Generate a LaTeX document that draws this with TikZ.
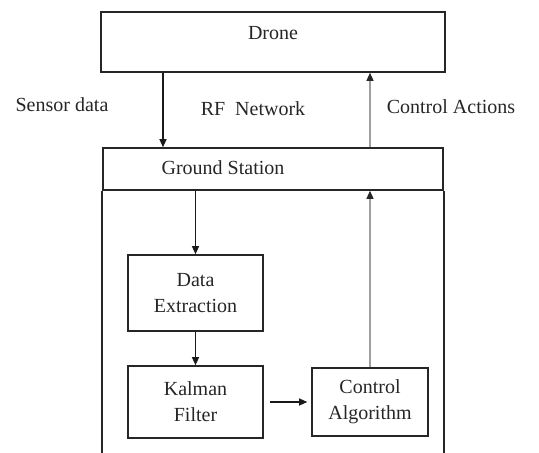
\documentclass[tikz,border=0pt]{standalone}
\usepackage{fontspec}
\setmainfont{Liberation Serif}
\usetikzlibrary{arrows.meta}

\begin{document}
\begin{tikzpicture}[x=1pt,y=1pt,
    box/.style={draw=black!85, line width=1.6pt, inner sep=0pt},
    txt/.style={font=\fontsize{20}{26}\selectfont, align=center, inner sep=0pt, text=black!85},
    arr/.style={-{Triangle[length=8pt,width=7pt]}, line width=1.2pt, draw=black!90},
    garr/.style={line width=1.3pt, draw=gray!75, -{Triangle[length=8pt,width=7pt,color=black!85]}}]
    \useasboundingbox (0,0) rectangle (539,453);
    \coordinate (bottom) at (273,0);
    \node[box, minimum width=344pt, minimum height=60pt] (drone) at (273,411) {};
    \node[txt] (dronetxt) at (273,420) {Drone};
    \node[box, minimum width=340pt, minimum height=42pt] (gs) at (273,284) {};
    \node[txt] (gstxt) at (223,285) {Ground Station};
    \node[box, txt, minimum width=135pt, minimum height=76pt] (de) at (195.5,160) {Data\\Extraction};
    \node[box, txt, minimum width=135pt, minimum height=72pt] (kf) at (195.5,51) {Kalman\\Filter};
    \node[box, txt, minimum width=116pt, minimum height=68pt] (ca) at (370,51) {Control\\Algorithm};
    \node[txt] (sensor) at (62,348) {Sensor data};
    \node[txt] (rf) at (253,344) {RF~ Network};
    \node[txt] (ctrl) at (451,346) {Control Actions};
    \draw[line width=1.6pt, black!85] (gs.south west) -- (gs.south west |- bottom);
    \draw[line width=1.6pt, black!85] (gs.south east) -- (gs.south east |- bottom);
    \draw[arr] ([xshift=-110pt]drone.south) -- ([xshift=-110pt]gs.north);
    \draw[garr] (gs.north -| ca.north) -- (drone.south -| ca.north);
    \draw[arr] (gs.south -| de.north) -- (de.north);
    \draw[arr] (de) -- (kf);
    \draw[arr, shorten <=6pt, shorten >=4pt] (kf) -- (ca);
    \draw[garr] (ca.north) -- (ca.north |- gs.south);
\end{tikzpicture}
\end{document}
